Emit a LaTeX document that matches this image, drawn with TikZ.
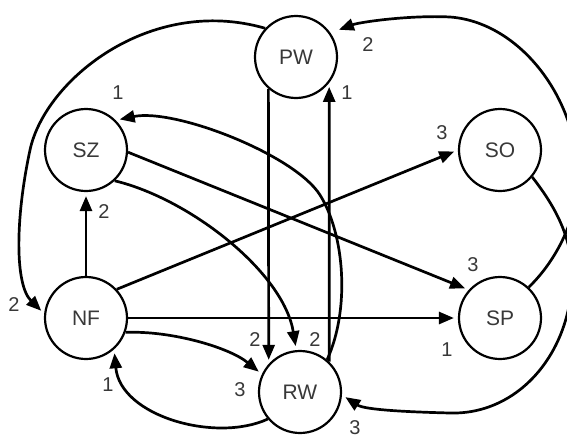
\documentclass[tikz,border=0pt]{standalone}
\usepackage{fontspec}
\setmainfont{Liberation Sans}
\usetikzlibrary{arrows.meta}
\begin{document}
\begin{tikzpicture}[x=1pt,y=-1pt,
  st/.style={circle,draw,line width=2.2pt,minimum size=82pt,inner sep=0pt,font=\fontsize{21}{25}\selectfont,text=black!78},
  con/.style={line width=2.7pt},
  arr/.style={con,shorten >=4pt,-{Triangle[length=15pt,width=12pt]}},
  lab/.style={font=\fontsize{20}{22}\selectfont,text=black!78,inner sep=0pt}]
\useasboundingbox (0,0) rectangle (567,439);
\fill[white] (0,0) rectangle (567,439);
\clip (0,0) rectangle (567,439);
% nodes
\node[st] (PW) at (296,57) {PW};
\node[st] (SZ) at (86,150) {SZ};
\node[st] (SO) at (500,150) {SO};
\node[st] (NF) at (86,318) {NF};
\node[st] (SP) at (500,318) {SP};
\node[st] (RW) at (300,392) {RW};
% connectors
\draw[arr] (PW.229) -- (RW.138);
\draw[arr] (RW.46) -- (PW.322);
\draw[arr] (SZ.-47) .. controls +(75,18) and +(-13,-78) .. (RW.95);
\draw[arr] (RW.50) .. controls (350,310) and (345,235) .. (320,195)
  .. controls (295,155) and (175,108) .. (SZ.45);
\draw[arr] (NF.north) -- (SZ.south);
\draw[arr] (NF.43) -- (SO.west);
\draw[arr] (SZ.-3) -- (SP.138);
\draw[arr] (NF.east) -- (SP.west);
\draw[arr] (NF.-20) .. controls +(45,-2) and +(-33,-27) .. (RW.155);
\draw[arr] (RW.220) .. controls +(-52,24) and +(6,67) .. (NF.-48);
\draw[arr] (PW.137) .. controls (150,-5) and (45,80) .. (30,150)
  .. controls (15,220) and (15,285) .. (NF.174);
\draw[arr,shorten >=9pt] (SP.47) .. controls (555,262) and (578,220) .. (578,175)
  .. controls (576,95) and (518,22) .. (450,17)
  .. controls (410,15) and (360,22) .. (PW.35);
\draw[arr] (SO.-40) .. controls (550,200) and (570,230) .. (572,270)
  .. controls (574,350) and (520,415) .. (450,413)
  .. controls (410,412) and (365,410) .. (RW.-4);
% labels
\node[lab] (lPWa) at (368,45) {2};
\node[lab] (lPWb) at (347,93) {1};
\node[lab] (lSO) at (442,133) {3};
\node[lab] (lSZa) at (118,93) {1};
\node[lab] (lSZb) at (104,212) {2};
\node[lab] (lNFa) at (14,305) {2};
\node[lab] (lRWa) at (255,340) {2};
\node[lab] (lRWb) at (315,340) {2};
\node[lab] (lRWc) at (240,390) {3};
\node[lab] (lRWd) at (355,428) {3};
\node[lab] (lSPa) at (473,265) {3};
\node[lab] (lSPb) at (447,350) {1};
\node[lab] (lNFb) at (108,385) {1};
\end{tikzpicture}
\end{document}
